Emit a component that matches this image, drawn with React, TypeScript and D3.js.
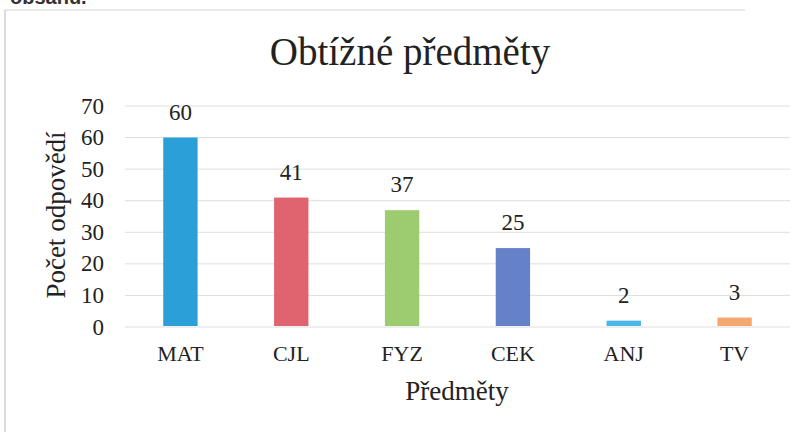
import React from "react";
import * as d3 from "d3";

const categories = ["MAT", "CJL", "FYZ", "CEK", "ANJ", "TV"];
const values = [60, 41, 37, 25, 2, 3];
const colors = ["#2a9fd8", "#e0646f", "#9dcb70", "#6581c8", "#4ab7ea", "#f4a86f"];
const yTicks = [0, 10, 20, 30, 40, 50, 60, 70];
const title = "Obtížné předměty";
const xTitle = "Předměty";
const yTitle = "Počet odpovědí";

const W = 804;
const H = 432;
const left = 125;
const right = 790;
const top = 106;
const bottom = 327;
const serif = "'Liberation Serif', 'Times New Roman', serif";

export default function App() {
  const x = d3.scaleBand<string>().domain(categories).range([left, right]).paddingInner(0.69).paddingOuter(0.345);
  const y = d3.scaleLinear().domain([0, 70]).range([bottom, top]);
  return (
    <svg width={W} height={H} style={{ position: "absolute", left: 0, top: 0, background: "#fff" }} fontFamily={serif}>
      <rect x={0} y={0} width={W} height={H} fill="#fff" />
      <text x={10} y={4} fontFamily="'Liberation Sans', Arial, sans-serif" fontWeight="bold" fontSize={20} fill="#333">obsahu.</text>
      <line x1={5} x2={745} y1={10} y2={10} stroke="#e2e2e2" strokeWidth={1.5} />
      <line x1={5} x2={5} y1={10} y2={H} stroke="#cfcfcf" strokeWidth={1.5} />
      <text x={410} y={65} textAnchor="middle" fontSize={39} fill="#222">{title}</text>
      {yTicks.map((t) => (
        <g key={t}>
          <line x1={left} x2={right} y1={y(t)} y2={y(t)} stroke="#dedede" strokeWidth={1} />
          <text x={104} y={y(t) + 7.5} textAnchor="end" fontSize={23} fill="#222">{t}</text>
        </g>
      ))}
      {categories.map((c, i) => (
        <g key={c}>
          <rect x={x(c)} y={y(values[i])} width={x.bandwidth()} height={y(0) - y(values[i]) - 1} fill={colors[i]} />
          <text x={(x(c) as number) + x.bandwidth() / 2} y={y(values[i]) - 18} textAnchor="middle" fontSize={23} fill="#222">{values[i]}</text>
          <text x={(x(c) as number) + x.bandwidth() / 2} y={361} textAnchor="middle" fontSize={22} fill="#222">{c}</text>
        </g>
      ))}
      <text x={457} y={400} textAnchor="middle" fontSize={27} fill="#222">{xTitle}</text>
      <text transform="translate(65,215) rotate(-90)" textAnchor="middle" fontSize={27} fill="#222">{yTitle}</text>
    </svg>
  );
}
